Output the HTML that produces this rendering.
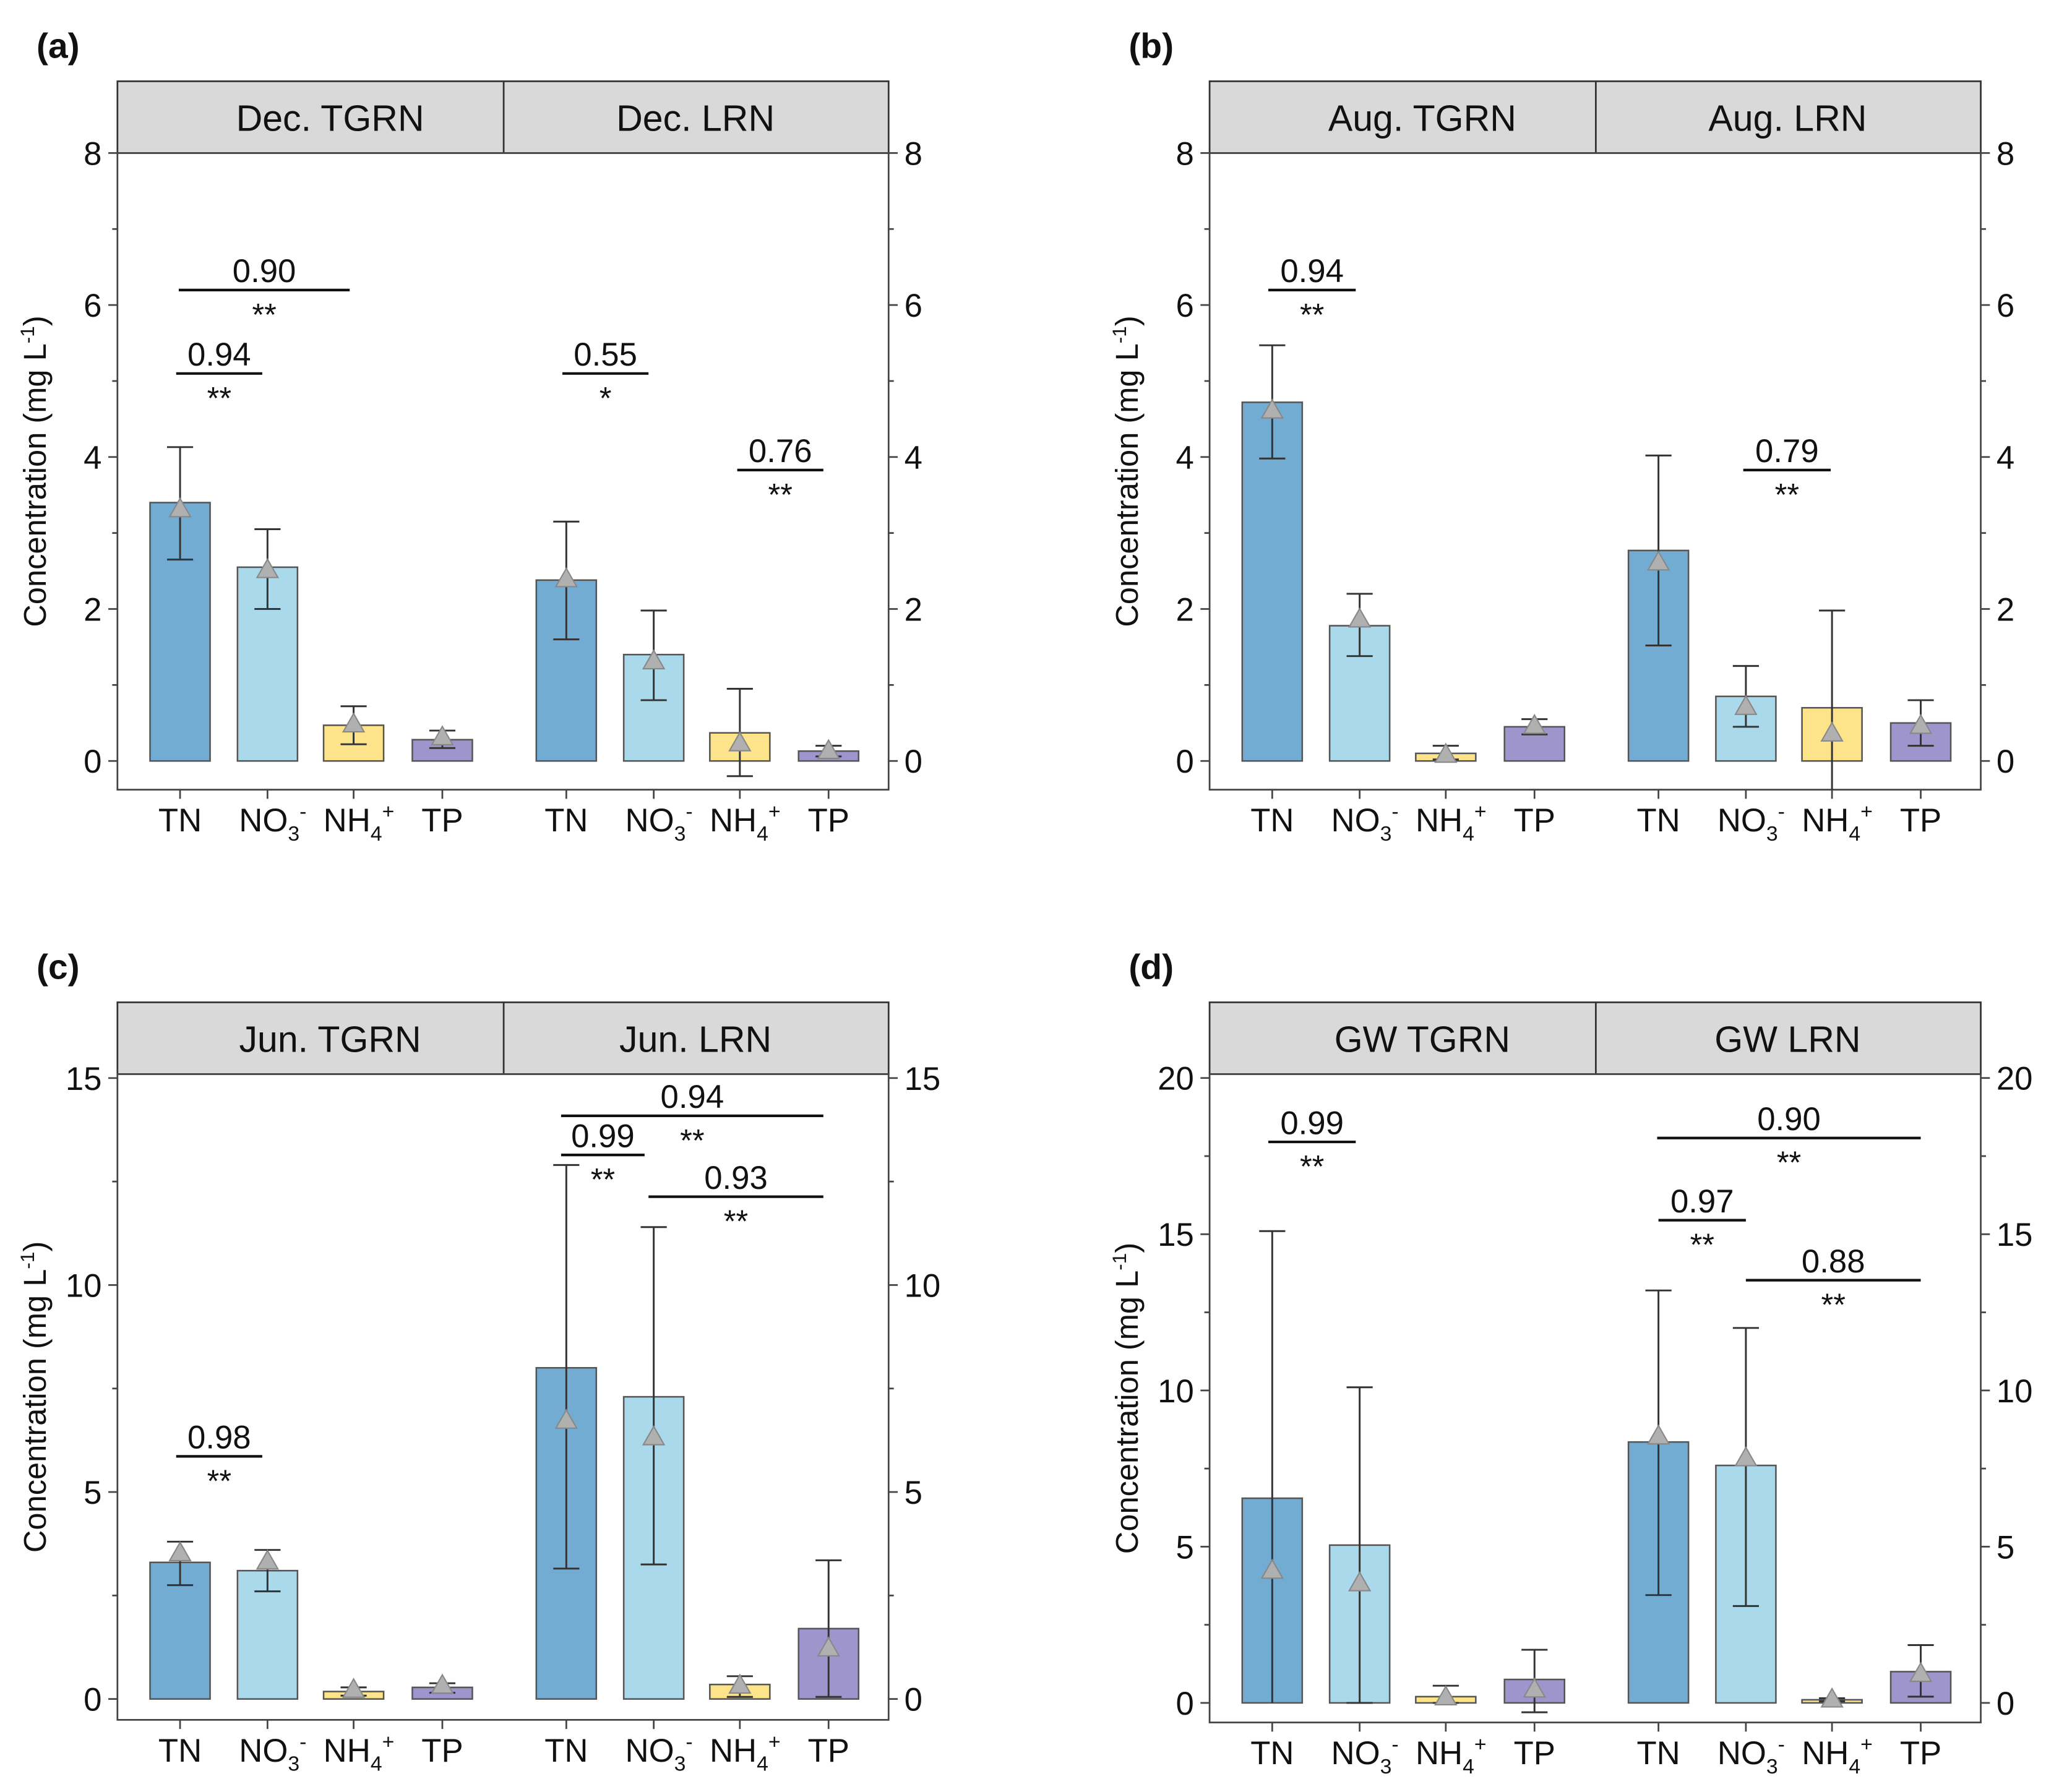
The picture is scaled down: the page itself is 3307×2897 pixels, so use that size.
<!DOCTYPE html>
<html><head><meta charset="utf-8"><style>
html,body{margin:0;padding:0;background:#fff;}
svg{display:block;}
text{font-family:"Liberation Sans",Arial,sans-serif;fill:#111;}
</style></head><body>
<svg id="s" width="3307" height="2897" viewBox="0 0 1568 1373" xmlns="http://www.w3.org/2000/svg"></svg>
<script>
const s=document.getElementById('s');let h='';
const col=['#72acd3','#a9d9ea','#fde48a','#9d95cb'];
const off=[0,67,133,201];
function panel(o){
 const X0=o.x,Y0=o.y;
 const L=X0,R=X0+591,HT=Y0,HB=Y0+55,B=o.bot;
 const ys=v=>o.zero-v*o.k;
 h+=`<text x="${L-62}" y="${Y0-18}" font-size="27" font-weight="bold">${o.lab}</text>`;
 h+=`<rect x="${L}" y="${HT}" width="591" height="55" fill="#d9d9d9" stroke="#333" stroke-width="1.3"/>`;
 h+=`<line x1="${L+296}" y1="${HT}" x2="${L+296}" y2="${HB}" stroke="#333" stroke-width="1.3"/>`;
 h+=`<text x="${L+163}" y="${HT+38}" font-size="28" text-anchor="middle">${o.h1}</text>`;
 h+=`<text x="${L+443}" y="${HT+38}" font-size="28" text-anchor="middle">${o.h2}</text>`;
 h+=`<rect x="${L}" y="${HB}" width="591" height="${B-HB}" fill="none" stroke="#444" stroke-width="1.3"/>`;
 for(let v=0;v<=o.max;v+=o.minor){const y=ys(v);const maj=Math.abs(v/o.step-Math.round(v/o.step))<1e-6;const t=maj?7:4;
  h+=`<line x1="${L-t}" y1="${y}" x2="${L}" y2="${y}" stroke="#444" stroke-width="1.3"/><line x1="${R}" y1="${y}" x2="${R+t}" y2="${y}" stroke="#444" stroke-width="1.3"/>`;
  if(maj){h+=`<text x="${L-12}" y="${y+9}" font-size="25" text-anchor="end">${v}</text><text x="${R+12}" y="${y+9}" font-size="25">${v}</text>`;}}
 const cy=(HB+B)/2;
 h+=`<text transform="translate(${L-55},${cy}) rotate(-90)" font-size="24" text-anchor="middle">Concentration (mg L<tspan dy="-9" font-size="15">-1</tspan><tspan dy="9">)</tspan></text>`;
 const bases=[L+48,L+344];
 o.d.forEach((g,gi)=>g.forEach((b,i)=>{
  const c=bases[gi]+off[i];const[v,lo,hi,t,nocap]=b;
  const top=ys(v),z=ys(0);
  h+=`<rect x="${c-23}" y="${top}" width="46" height="${z-top}" fill="${col[i]}" stroke="#555" stroke-width="1.2"/>`;
  const yl=Math.min(ys(lo),B),yh=ys(hi);
  h+=`<line x1="${c}" y1="${yl}" x2="${c}" y2="${yh}" stroke="#333" stroke-width="1.4"/><line x1="${c-10}" y1="${yh}" x2="${c+10}" y2="${yh}" stroke="#333" stroke-width="1.4"/>`;
  if(ys(lo)<B&&!nocap)h+=`<line x1="${c-10}" y1="${yl}" x2="${c+10}" y2="${yl}" stroke="#333" stroke-width="1.4"/>`;
  const ty=ys(t);h+=`<polygon points="${c},${ty-9} ${c-8},${ty+5} ${c+8},${ty+5}" fill="#b0b0b0" stroke="#888" stroke-width="1"/>`;
  h+=`<line x1="${c}" y1="${B}" x2="${c}" y2="${B+7}" stroke="#444" stroke-width="1.3"/>`;
  const ly=B+32;
  const lbl=[`TN`,`NO<tspan dy="7" font-size="16">3</tspan><tspan dy="-17" font-size="16">-</tspan>`,`NH<tspan dy="7" font-size="16">4</tspan><tspan dy="-17" font-size="16">+</tspan>`,`TP`][i];
  h+=`<text x="${c+(i==1||i==2?4:0)}" y="${ly}" font-size="25" text-anchor="middle">${lbl}</text>`;
 }));
 o.a.forEach(([x1,x2,y,txt,st])=>{const m=(x1+x2)/2;
  h+=`<line x1="${x1}" y1="${y}" x2="${x2}" y2="${y}" stroke="#111" stroke-width="2"/><text x="${m}" y="${y-6}" font-size="25" text-anchor="middle">${txt}</text><text x="${m}" y="${y+27}" font-size="24" text-anchor="middle">${st}</text>`;});
}
panel({lab:'(a)',x:90,y:62,bot:605,zero:583,k:58.25,max:8,step:2,minor:1,h1:'Dec. TGRN',h2:'Dec. LRN',
 d:[[[3.4,2.65,4.13,3.3],[2.55,2,3.05,2.5],[0.47,0.22,0.72,0.47],[0.28,0.17,0.4,0.3]],
    [[2.38,1.6,3.15,2.38],[1.4,0.8,1.98,1.3],[0.37,-0.2,0.95,0.22],[0.13,0.06,0.2,0.12]]],
 a:[[137,268,222,'0.90','**'],[135,201,286,'0.94','**'],[431,497,286,'0.55','*'],[565,631,360,'0.76','**']]});
panel({lab:'(b)',x:927,y:62,bot:605,zero:583,k:58.25,max:8,step:2,minor:1,h1:'Aug. TGRN',h2:'Aug. LRN',
 d:[[[4.72,3.98,5.47,4.6],[1.78,1.38,2.2,1.85],[0.1,0.02,0.2,0.07],[0.45,0.35,0.55,0.45]],
    [[2.77,1.52,4.02,2.6],[0.85,0.45,1.25,0.7],[0.7,-1,1.98,0.35],[0.5,0.2,0.8,0.45]]],
 a:[[972,1039,222,'0.94','**'],[1336,1403,360,'0.79','**']]});
panel({lab:'(c)',x:90,y:768,bot:1318,zero:1302,k:31.73,max:15,step:5,minor:2.5,h1:'Jun. TGRN',h2:'Jun. LRN',
 d:[[[3.3,2.75,3.8,3.5],[3.1,2.6,3.6,3.3],[0.18,0.08,0.28,0.2],[0.28,0.15,0.38,0.3]],
    [[8,3.15,12.9,6.7],[7.3,3.25,11.4,6.3],[0.35,0.05,0.55,0.3],[1.7,0.05,3.35,1.2]]],
 a:[[135,201,1116,'0.98','**'],[430,631,855,'0.94','**'],[430,494,885,'0.99','**'],[497,631,917,'0.93','**']]});
panel({lab:'(d)',x:927,y:768,bot:1320,zero:1305,k:23.95,max:20,step:5,minor:2.5,h1:'GW TGRN',h2:'GW LRN',
 d:[[[6.55,0,15.1,4.2,1],[5.05,0,10.1,3.8],[0.2,0,0.55,0.15],[0.75,-0.3,1.7,0.4]],
    [[8.35,3.45,13.2,8.5],[7.6,3.1,12,7.8],[0.1,0.05,0.15,0.08],[1,0.2,1.85,0.9]]],
 a:[[972,1039,875,'0.99','**'],[1270,1472,872,'0.90','**'],[1271,1338,935,'0.97','**'],[1338,1472,981,'0.88','**']]});
s.innerHTML=h;
</script>
</body></html>
